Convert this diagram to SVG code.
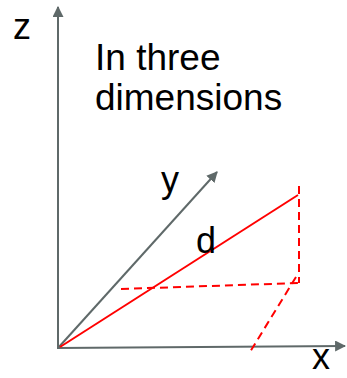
<svg xmlns="http://www.w3.org/2000/svg" width="347" height="378" viewBox="0 0 347 378">
<style>
.ax{stroke:#5f6969;stroke-width:2;fill:none}
.red{stroke:#ff0000;stroke-width:2;fill:none}
.dash{stroke:#ff0000;stroke-width:2;fill:none;stroke-dasharray:8,5}
.lbl{font-family:"Liberation Sans",Arial,sans-serif;font-size:36px;fill:#000}
.big{font-size:37px}
</style>
<defs>
<marker id="ah" viewBox="0 0 10 10" refX="9" refY="5" markerWidth="5.5" markerHeight="5.5" orient="auto" markerUnits="strokeWidth">
<path d="M0,0 L10,5 L0,10 z" fill="#5f6969"/>
</marker>
</defs>
<g id="connectors">
<line class="ax" x1="58" y1="348" x2="58" y2="7" marker-end="url(#ah)"/>
<line class="ax" x1="57" y1="348" x2="345" y2="346" marker-end="url(#ah)"/>
<line class="ax" x1="58" y1="348" x2="217" y2="172" marker-end="url(#ah)"/>
<line class="red" x1="60" y1="347" x2="298" y2="195"/>
<line class="dash" x1="299" y1="186" x2="299" y2="283"/>
<line class="dash" x1="121" y1="289" x2="299" y2="283"/>
<line class="dash" x1="296" y1="277" x2="250" y2="352"/>
</g>
<g id="label-z"><text class="lbl" x="13" y="39">z</text></g>
<g id="title"><text class="lbl big" x="95" y="70">In three</text><text class="lbl big" x="95" y="110">dimensions</text></g>
<g id="label-y"><text class="lbl" x="161" y="192">y</text></g>
<g id="label-d"><text class="lbl" x="196" y="253">d</text></g>
<g id="label-x"><text class="lbl" x="312" y="369">x</text></g>
</svg>
